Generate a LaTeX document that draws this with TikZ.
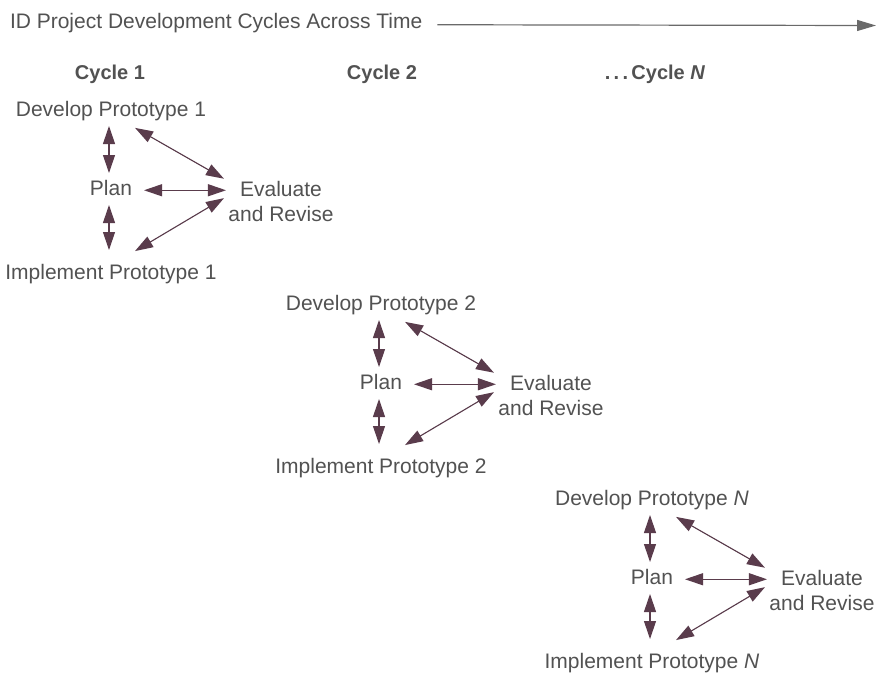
\documentclass[tikz,border=0pt]{standalone}
\usepackage{fontspec}
\setmainfont{Liberation Sans}
\usetikzlibrary{arrows.meta,calc}
\definecolor{txtc}{HTML}{525252}
\definecolor{arrc}{HTML}{5A3C4C}
\definecolor{timec}{HTML}{6A6A6A}
\tikzset{
  txt/.style={inner sep=0pt,outer sep=0pt,text=txtc,font=\fontsize{21}{25}\selectfont,anchor=base,text height=15pt,text depth=4.5pt},
  evaltxt/.style={inner sep=0pt,outer sep=0pt,text=txtc,font=\fontsize{21}{25}\selectfont,anchor=base,align=center},
  cyctxt/.style={inner sep=0pt,outer sep=0pt,text=txtc,font=\fontsize{20}{24}\selectfont\bfseries,anchor=base},
  dbl/.style={{Triangle[length=18pt,width=12pt]}-{Triangle[length=18pt,width=12pt]},line width=1.1pt,draw=arrc,fill=arrc},
  timearrow/.style={-{Triangle[length=19pt,width=11pt]},line width=1.2pt,draw=timec}
}
\newcommand\idcycle[4]{%
  \node[txt] (#1dev) at ({#2},{#3-71.5}) {Develop Prototype #4};
  \node[txt] (#1plan) at ({#2},{#3+7.5}) {Plan};
  \node[txt] (#1imp) at ({#2},{#3+91.5}) {Implement Prototype #4};
  \node[evaltxt] (#1eval) at ({#2+170},{#3+33.5}) {Evaluate\\and Revise};
  \draw[dbl,shorten <=5pt,shorten >=7.5pt] ([xshift=-2pt]#1dev.south) -- ([xshift=-2pt]#1plan.north);
  \draw[dbl,shorten <=5pt,shorten >=14.5pt] ([xshift=-2pt]#1plan.south) -- ([xshift=-2pt]#1imp.north);
  \draw[dbl,shorten <=12pt,shorten >=2.5pt] (#1plan.east) -- (#1plan.east -| #1eval.west);
  \draw[dbl,shorten <=13.9pt,shorten >=5.2pt] ([xshift=12pt]#1dev.south) -- (#1eval.north west);
  \draw[dbl,shorten <=26.3pt,shorten >=5.2pt] ([xshift=1.4pt]#1imp.north) -- ([yshift=6pt]#1eval.west);
}
\begin{document}
\begin{tikzpicture}[x=1pt,y=-1pt]
  \useasboundingbox[fill=white] (0,0) rectangle (878,673);
  \node[txt,anchor=base west] (title) at (10,28) {ID Project Development Cycles Across Time};
  \coordinate (tend) at (876,25.5);
  \draw[timearrow] ([xshift=15pt,yshift=-2pt]title.east) -- (tend);
  \node[cyctxt] (c1) at (110,79) {Cycle 1};
  \node[cyctxt] (c2) at (382,79) {Cycle 2};
  \node[cyctxt] (cn) at (655,79) {.\,.\,.\,Cycle \textit{N}};
  \idcycle{a}{111}{188}{1}
  \idcycle{b}{381}{382}{2}
  \idcycle{n}{652}{577}{\textit{N}}
\end{tikzpicture}
\end{document}
